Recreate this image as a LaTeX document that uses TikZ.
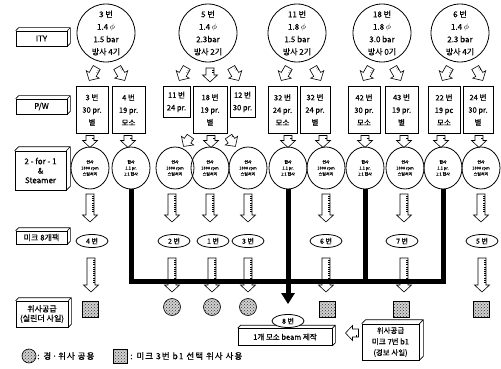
\documentclass[tikz,border=0pt]{standalone}
\usepackage{fontspec}
\setmainfont{Noto Sans CJK KR}[FakeBold=0.5]
\usetikzlibrary{shapes.geometric,calc,patterns,arrows.meta}

\newcommand\extrude[2]{%
 \draw[line width=0.7pt,line join=miter] (#1.north west) -- ++(#2,-#2) -- ($(#1.north east)+(#2,-#2)$) -- ($(#1.south east)+(#2,-#2)$) -- (#1.south east) (#1.north east) -- ++(#2,-#2);}

\newcommand\harr[4]{%
 \begin{scope}[shift={(#1,#2)},rotate=#4]
 \pgfmathsetmacro\hl{#3/2}
 \pgfmathsetmacro\hb{#3/2-7}
 \draw[fill=white,line width=0.6pt,line join=miter] (-4,-\hl) -- (4,-\hl) -- (4,\hb) -- (7.5,\hb) -- (0,\hl) -- (-7.5,\hb) -- (-4,\hb) -- cycle;
 \pgfmathtruncatemacro\nt{(#3-9)/2.2}
 \ifnum\nt>0 \foreach \i in {1,...,\nt}{\draw[line width=0.35pt] (2.2,-\hl+\i*2.2) -- (4,-\hl+\i*2.2);}\fi
 \end{scope}}

\begin{document}
\begin{tikzpicture}[x=1pt,y=-1pt,
 lbl/.style={draw,fill=white,line width=0.7pt,inner sep=0pt,align=center,font=\fontsize{8}{9.5}\selectfont},
 topc/.style={circle,draw,line width=0.8pt,minimum size=58pt,inner sep=0pt,align=center,font=\fontsize{8}{12.5}\selectfont},
 pw/.style={draw,line width=0.7pt,inner sep=0pt,align=center,anchor=north,font=\fontsize{7.5}{12.5}\selectfont},
 tw/.style={ellipse,draw,line width=0.8pt,minimum width=38pt,minimum height=42pt,inner sep=0pt,align=center,font=\fontsize{4}{6}\selectfont},
 num/.style={ellipse,draw,line width=0.8pt,fill=white,minimum width=32pt,minimum height=13pt,inner sep=0pt,font=\fontsize{7}{8}\selectfont},
 dsq/.style={draw,line width=0.6pt,minimum size=16pt,inner sep=0pt,preaction={fill=black!18},pattern=crosshatch dots,pattern color=black!80},
 dci/.style={circle,draw,line width=0.6pt,minimum size=17pt,inner sep=0pt,preaction={fill=black!18},pattern=crosshatch dots,pattern color=black!80},
 bus/.style={line width=5pt,line join=miter}]
\useasboundingbox (0,0) rectangle (501,369);

% ---- left row labels
\node[lbl,minimum width=51pt,minimum height=15pt] (Lity) at (41.5,38.5) {ITY}; \extrude{Lity}{3}
\node[lbl,minimum width=51pt,minimum height=15pt] (Lpw) at (41.5,106.5) {P/W}; \extrude{Lpw}{3}
\node[lbl,minimum width=51pt,minimum height=39pt] (Ltw) at (40.5,170.5) {2 - for - 1\\\&\\Steamer}; \extrude{Ltw}{4}
\node[lbl,minimum width=51pt,minimum height=13pt] (Lnum) at (41.5,237.5) {미크 8개팩}; \extrude{Lnum}{3}
\node[lbl,minimum width=52pt,minimum height=26pt] (Lws) at (42,314) {위사공급\\(실린더 사일)}; \extrude{Lws}{3}

% ---- ITY circles
\node[topc] (c1) at (106,33) {3 번\\1.4 $\phi$\\1.5 bar\\방사 4기};
\node[topc] (c2) at (208,33) {5 번\\1.4 $\phi$\\2.3bar\\방사 2기};
\node[topc] (c3) at (297,33) {11 번\\1.8 $\phi$\\1.5 bar\\방사 2기};
\node[topc] (c4) at (382,33) {18 번\\1.8 $\phi$\\3.0 bar\\방사 0기};
\node[topc] (c5) at (460,33) {6 번\\1.4 $\phi$\\2.3 bar\\방사 4기};

% ---- arrows ITY -> P/W
\harr{93}{74}{15}{-30} \harr{121}{74}{15}{30}
\harr{183}{74}{15}{-30} \harr{210}{75}{14}{0} \harr{235}{74}{15}{30}
\harr{285}{74}{15}{-30} \harr{317}{74}{15}{30}
\harr{367}{74}{15}{-30} \harr{397}{74}{15}{30}
\harr{446}{74}{15}{-30} \harr{479}{74}{15}{30}

% ---- P/W boxes
\node[pw,minimum width=32pt,minimum height=47pt] (p1) at (92,86) {3 번\\30 pr.\\별};
\node[pw,minimum width=33pt,minimum height=47pt] (p2) at (128.5,86) {4 번\\19 pr.\\모소};
\node[pw,minimum width=27pt,minimum height=31pt] (p3) at (176.5,86) {11 번\\24 pr.};
\node[pw,minimum width=34pt,minimum height=47pt] (p4) at (210,86) {18 번\\19 pr.\\별};
\node[pw,minimum width=25pt,minimum height=31pt] (p5) at (242.5,86) {12 번\\30 pr.};
\node[pw,minimum width=29pt,minimum height=47pt] (p6) at (282.5,86) {32 번\\24 pr.\\모소};
\node[pw,minimum width=30pt,minimum height=47pt] (p7) at (315,86) {32 번\\24 pr.\\별};
\node[pw,minimum width=32pt,minimum height=47pt] (p8) at (364,86) {42 번\\30 pr.\\모소};
\node[pw,minimum width=33pt,minimum height=47pt] (p9) at (401.5,86) {43 번\\19 pr.\\별};
\node[pw,minimum width=32pt,minimum height=47pt] (p10) at (444,86) {22 번\\19 pc\\모소};
\node[pw,minimum width=30pt,minimum height=47pt] (p11) at (478,86) {24 번\\30 pr.\\별};

% ---- arrows P/W -> 2-for-1
\harr{90}{141.5}{12}{0} \harr{128}{141.5}{12}{0}
\harr{187}{141.5}{12}{-35} \harr{211}{141.5}{12}{0} \harr{232}{141.5}{12}{35}
\harr{288}{141.5}{12}{0} \harr{323}{141.5}{12}{0}
\harr{365}{141.5}{12}{0} \harr{404}{141.5}{12}{0}
\harr{441}{141.5}{12}{0} \harr{479}{141.5}{12}{0}

% ---- 2-for-1 circles
\node[tw] (t1) at (90,168) {연사\\1000 rpm\\스팀처리};
\node[tw] (t2) at (131,168) {합사\\1.1 pr.\\1:1 합사};
\node[tw] (t3) at (175,168) {연사\\1000 rpm\\스팀처리};
\node[tw] (t4) at (210,168) {연사\\1000 rpm\\스팀처리};
\node[tw] (t5) at (248,168) {연사\\1000 rpm\\스팀처리};
\node[tw] (t6) at (288,168) {합사\\1.1 pr.\\1:1 합사};
\node[tw] (t7) at (326,168) {연사\\1000 rpm\\스팀처리};
\node[tw] (t8) at (365,168) {합사\\1.1 pr.\\1:1 합사};
\node[tw] (t9) at (405,168) {연사\\1000 rpm\\스팀처리};
\node[tw] (t10) at (443,168) {합사\\1.1 pr.\\1:1 합사};
\node[tw] (t11) at (481,168) {연사\\1000 rpm\\스팀처리};

% ---- arrows 2-for-1 -> numbers
\harr{90}{208}{28}{0} \harr{172}{208}{28}{0} \harr{210}{208}{28}{0}
\harr{248}{208}{28}{0} \harr{326}{208}{28}{0} \harr{404}{208}{28}{0} \harr{481}{208}{28}{0}

% ---- number ellipses
\node[num] (e1) at (92,241) {4 번};
\node[num] (e2) at (174,241) {2 번};
\node[num] (e3) at (213,241) {1 번};
\node[num] (e4) at (248,241) {3 번};
\node[num] (e5) at (326,241) {6 번};
\node[num] (e6) at (402,241) {7 번};
\node[num] (e7) at (482,241) {5 번};

% ---- arrows numbers -> bottom
\harr{91}{275}{34}{0} \harr{172}{275}{34}{0} \harr{212}{275}{34}{0}
\harr{248}{275}{34}{0} \harr{326}{275}{34}{0} \harr{404}{275}{34}{0} \harr{482}{275}{34}{0}

% ---- beam box and 8번
\node[lbl,minimum width=94pt,minimum height=17pt,font=\fontsize{7.5}{9}\selectfont] (beam) at (285,337) {1개 모소 beam 제작}; \extrude{beam}{3}
\node[num] (n8) at (288,321) {8 번};

% ---- thick bus
\coordinate (bL) at (128,281);
\draw[bus] (t2.south) -- (t2.south |- bL) -- (t10.south |- bL) -- (t10.south);
\draw[bus] (t8.south) -- (t8.south |- bL);
\draw[bus,-{Triangle[width=13pt,length=11pt]},shorten >=10pt] (t6.south) -- (n8.north);

% ---- bottom markers
\node[dsq] (s1) at (90,309) {};
\node[dci] (d1) at (172,307) {};
\node[dci] (d2) at (212,307) {};
\node[dci] (d3) at (248,307) {};
\node[dsq] (s2) at (327,309) {};
\node[dsq] (s3) at (401,309) {};
\node[dsq] (s4) at (481,309) {};

% ---- weft supply box
\node[lbl,minimum width=57pt,minimum height=36pt,font=\fontsize{7.5}{11}\selectfont] (wr) at (390.5,342) {위사공급\\미크 7번 b1\\(경보 사일)}; \extrude{wr}{4}
\harr{352}{333}{13}{-90}

% ---- legend
\node[dci,minimum size=14pt] (lg1) at (29,356) {};
\node[anchor=west,inner sep=0pt,font=\fontsize{8.5}{9}\selectfont\addfontfeatures{LetterSpace=12}] (lt1) at (37,356) {: 경·위사 공용};
\node[dsq,minimum size=14pt] (lg2) at (120,356) {};
\node[anchor=west,inner sep=0pt,font=\fontsize{8.5}{9}\selectfont\addfontfeatures{LetterSpace=12}] (lt2) at (130,356) {: 미크 3번 b1 선택 위사 사용};
\end{tikzpicture}
\end{document}
